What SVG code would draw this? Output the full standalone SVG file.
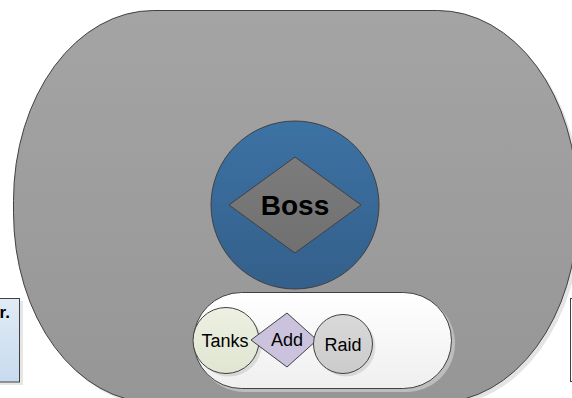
<svg xmlns="http://www.w3.org/2000/svg" width="572" height="398" viewBox="0 0 572 398">
<defs>
<linearGradient id="gBig" x1="0" y1="0" x2="0" y2="1"><stop offset="0" stop-color="#a4a4a4"/><stop offset="1" stop-color="#969696"/></linearGradient>
<linearGradient id="gBlue" x1="0" y1="0" x2="0" y2="1"><stop offset="0" stop-color="#3c72a4"/><stop offset="1" stop-color="#345f8a"/></linearGradient>
<linearGradient id="gDia" x1="0" y1="0" x2="0" y2="1"><stop offset="0" stop-color="#7c7c7c"/><stop offset="1" stop-color="#707070"/></linearGradient>
<linearGradient id="gPill" x1="0" y1="0" x2="0" y2="1"><stop offset="0" stop-color="#ffffff"/><stop offset="1" stop-color="#efefef"/></linearGradient>
<linearGradient id="gLeft" x1="0" y1="0" x2="0" y2="1"><stop offset="0" stop-color="#e0ebf6"/><stop offset="1" stop-color="#c8dbee"/></linearGradient>
<linearGradient id="gTank" x1="0" y1="0" x2="0" y2="1"><stop offset="0" stop-color="#edf0e2"/><stop offset="1" stop-color="#e0e6d2"/></linearGradient>
<linearGradient id="gRaid" x1="0" y1="0" x2="0" y2="1"><stop offset="0" stop-color="#d9d9d9"/><stop offset="1" stop-color="#cbcbcb"/></linearGradient>
</defs>
<style>
.ln{stroke:#404040;stroke-width:1}
.sh{fill:#000;opacity:0.1}
.t{font-family:"Liberation Sans",Arial,sans-serif;fill:#000;text-anchor:middle}
</style>
<rect width="572" height="398" fill="#ffffff"/>
<g id="leftbox">
<rect x="-20" y="301" width="43" height="84" fill="#e6e6e6"/>
<rect x="-20" y="298.5" width="39.5" height="83.5" fill="url(#gLeft)" class="ln"/>
<text x="10" y="318" font-family="Liberation Sans,Arial,sans-serif" font-size="17" font-weight="bold" text-anchor="end" fill="#000">r.</text>
</g>
<g id="rightbox">
<rect x="570.5" y="298.5" width="20" height="83" fill="#ffffff" class="ln"/>
</g>
<g id="region">
<rect x="17" y="14" width="564" height="392" rx="140" ry="190" fill="#e4e4e4"/>
<rect x="13.5" y="10.5" width="564" height="392" rx="140" ry="190" fill="url(#gBig)" class="ln"/>
</g>
<g id="boss">
<circle cx="295" cy="205" r="84" fill="url(#gBlue)" class="ln"/>
<polygon points="229,205 295,157 361,205 295,253" fill="url(#gDia)" class="ln"/>
<text class="t" x="295" y="215" font-size="28" font-weight="bold">Boss</text>
</g>
<g id="group">
<rect x="196" y="295" width="259" height="97" rx="48.5" fill="#bdbdbd"/>
<rect x="193.5" y="292.5" width="258" height="96" rx="48" fill="url(#gPill)" class="ln"/>
</g>
<g id="tanks">
<circle cx="229" cy="343.5" r="33" class="sh"/>
<circle cx="226" cy="340.5" r="33" fill="url(#gTank)" class="ln"/>
<text class="t" x="225" y="347" font-size="18">Tanks</text>
</g>
<g id="add">
<polygon points="251,340 287,313 317,340 287,367" fill="#cbc3dd" class="ln"/>
<text class="t" x="287" y="346" font-size="18">Add</text>
</g>
<g id="raid">
<circle cx="346" cy="347" r="29.5" class="sh"/>
<circle cx="343" cy="344" r="29.5" fill="url(#gRaid)" class="ln"/>
<text class="t" x="343" y="351" font-size="18">Raid</text>
</g>
<g id="connectors"/>
</svg>
